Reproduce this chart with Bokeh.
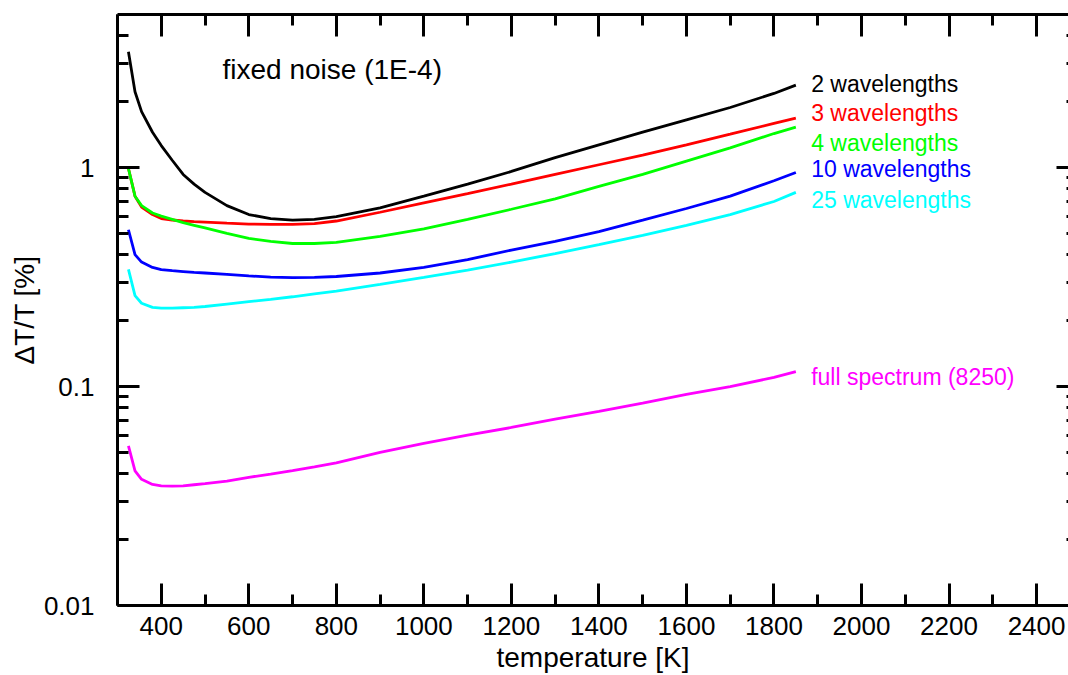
from bokeh.plotting import figure
from bokeh.models import Range1d, FixedTicker, LinearAxis, LogAxis, Label, CustomJSTickFormatter
from bokeh.embed import file_html
from bokeh.resources import INLINE

# ---- data ----
temperature = [325, 340, 355, 380, 400, 425, 450, 475, 500, 550, 600, 650, 700, 750, 800,
               900, 1000, 1100, 1200, 1300, 1400, 1500, 1600, 1700, 1800, 1850]
wl2 = [3.38, 2.22, 1.80, 1.45, 1.26, 1.08, 0.93, 0.84, 0.77, 0.67, 0.61, 0.585, 0.575, 0.58, 0.597,
       0.655, 0.74, 0.84, 0.96, 1.11, 1.27, 1.45, 1.65, 1.88, 2.18, 2.38]
wl3 = [0.99, 0.74, 0.66, 0.61, 0.585, 0.576, 0.57, 0.566, 0.563, 0.557, 0.552, 0.55, 0.55, 0.555, 0.57,
       0.625, 0.69, 0.76, 0.84, 0.93, 1.03, 1.14, 1.27, 1.42, 1.59, 1.68]
wl4 = [0.99, 0.74, 0.67, 0.62, 0.60, 0.58, 0.56, 0.545, 0.53, 0.50, 0.475, 0.46, 0.45, 0.45, 0.455,
       0.485, 0.525, 0.58, 0.645, 0.72, 0.82, 0.93, 1.07, 1.23, 1.43, 1.53]
wl10 = [0.52, 0.40, 0.37, 0.35, 0.342, 0.338, 0.335, 0.332, 0.33, 0.325, 0.32, 0.316, 0.314, 0.315, 0.318,
        0.33, 0.35, 0.38, 0.42, 0.46, 0.51, 0.575, 0.65, 0.74, 0.87, 0.95]
wl25 = [0.343, 0.26, 0.24, 0.23, 0.228, 0.228, 0.229, 0.23, 0.232, 0.238, 0.244, 0.25, 0.257, 0.265, 0.273,
        0.293, 0.315, 0.34, 0.37, 0.405, 0.445, 0.49, 0.545, 0.61, 0.70, 0.77]
full = [0.0536, 0.0412, 0.0377, 0.0357, 0.0352, 0.0351, 0.0352, 0.0356, 0.0360, 0.0370, 0.0385, 0.0398,
        0.0413, 0.043, 0.0448, 0.050, 0.055, 0.060, 0.065, 0.071, 0.077, 0.084, 0.092, 0.100, 0.110, 0.117]

series = [wl2, wl3, wl4, wl10, wl25, full]
series_names = ["2 wavelengths", "3 wavelengths", "4 wavelengths", "10 wavelengths",
                "25 wavelengths", "full spectrum (8250)"]
series_colors = ["#000000", "#ff0000", "#00ff00", "#0000ff", "#00ffff", "#ff00ff"]
label_y = [2.40, 1.77, 1.30, 0.99, 0.71, 0.111]
label_x = 1885

x_major = [400, 600, 800, 1000, 1200, 1400, 1600, 1800, 2000, 2200, 2400]
x_minor = [300, 500, 700, 900, 1100, 1300, 1500, 1700, 1900, 2100, 2300]
y_major = [0.01, 0.1, 1]
y_minor = [0.02, 0.03, 0.04, 0.05, 0.06, 0.07, 0.08, 0.09,
           0.2, 0.3, 0.4, 0.5, 0.6, 0.7, 0.8, 0.9, 2, 3, 4]

FONT = "Liberation Sans"

p = figure(width=1068, height=675, x_range=Range1d(300, 2473), y_range=Range1d(0.01, 5),
           y_axis_type="log", output_backend="svg", toolbar_location=None,
           min_border_left=117, min_border_right=0, min_border_top=14, min_border_bottom=69)
p.grid.visible = False
p.outline_line_color = None
p.background_fill_color = "white"
p.border_fill_color = "white"

fmt = CustomJSTickFormatter(code="return String(Number(tick.toPrecision(3)));")
blank = CustomJSTickFormatter(code="return '';")

def style(ax, labels=True):
    ax.axis_line_width = 3
    ax.axis_line_color = "black"
    ax.major_tick_line_width = 3
    ax.minor_tick_line_width = 3
    ax.major_tick_line_color = "black"
    ax.minor_tick_line_color = "black"
    ax.major_tick_in = 22
    ax.major_tick_out = 0
    ax.minor_tick_in = 11
    ax.minor_tick_out = 0
    ax.major_label_text_font = FONT
    ax.major_label_text_font_size = "26px" if labels else "1px"
    ax.major_label_text_color = "black"
    ax.axis_label_text_font = FONT
    ax.axis_label_text_font_size = "28px"
    ax.axis_label_text_font_style = "normal"
    ax.axis_label_text_color = "black"

xb = p.xaxis[0]
xb.ticker = FixedTicker(ticks=x_major, minor_ticks=x_minor)
style(xb)
xb.major_label_standoff = 11
xb.axis_label = "temperature [K]"
xb.axis_label_standoff = 4

yl = p.yaxis[0]
yl.ticker = FixedTicker(ticks=y_major, minor_ticks=y_minor)
yl.formatter = fmt
style(yl)
yl.major_label_standoff = 23
yl.axis_label = "ΔT/T [%]"
yl.axis_label_standoff = 1

xt = LinearAxis(ticker=FixedTicker(ticks=x_major, minor_ticks=x_minor), formatter=blank)
style(xt, labels=False)
xt.major_label_standoff = 0
p.add_layout(xt, "above")

yr = LogAxis(ticker=FixedTicker(ticks=y_major, minor_ticks=y_minor), formatter=blank)
style(yr, labels=False)
yr.axis_line_color = None
yr.major_tick_in = 12
yr.minor_tick_in = 2
yr.major_label_standoff = 0
p.add_layout(yr, "right")

for vals, name, col, ly in zip(series, series_names, series_colors, label_y):
    p.line(temperature, vals, line_color=col, line_width=2.8)
    p.add_layout(Label(x=label_x, y=ly, text=name, text_color=col, text_font=FONT,
                       text_font_size="23px", text_baseline="middle", text_align="left"))

p.add_layout(Label(x=540, y=2.8, text="fixed noise (1E-4)", text_color="black", text_font=FONT,
                   text_font_size="28px", text_baseline="middle", text_align="left"))

open("out.html", "w").write(file_html(p, INLINE))
